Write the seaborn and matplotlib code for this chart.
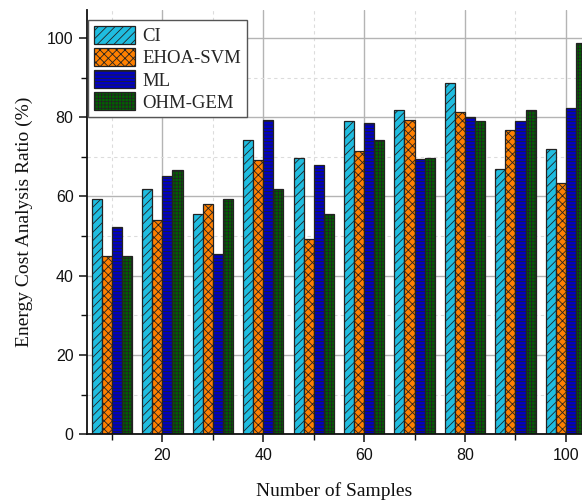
import seaborn as sns
import matplotlib.pyplot as plt
from matplotlib.ticker import MultipleLocator
import pandas as pd

samples = [10, 20, 30, 40, 50, 60, 70, 80, 90, 100]
ci = [59.4, 61.9, 55.7, 74.2, 69.7, 79.1, 81.8, 88.7, 66.9, 71.9]
ehoa_svm = [44.9, 54.1, 58.1, 69.2, 49.3, 71.4, 79.3, 81.4, 76.7, 63.3]
ml = [52.2, 65.2, 45.5, 79.3, 68.0, 78.5, 69.4, 80.1, 79.1, 82.2]
ohm_gem = [44.9, 66.7, 59.4, 61.9, 55.7, 74.2, 69.7, 79.1, 81.8, 98.8]
methods = ["CI", "EHOA-SVM", "ML", "OHM-GEM"]
colors = ["#1fbde0", "#ff8000", "#0000c8", "#006400"]
hatches = ["////", "xxxx", "-----", "+++++"]

df = pd.DataFrame({
    "samples": samples * 4,
    "value": ci + ehoa_svm + ml + ohm_gem,
    "method": [m for m in methods for _ in samples],
})

sns.set_style("white")
plt.rcParams["hatch.linewidth"] = 0.6
plt.rcParams["hatch.color"] = "#111111"

fig = plt.figure(figsize=(5.82, 5.04), dpi=100)
ax = fig.add_axes([0.149, 0.138, 0.851, 0.842])

sns.barplot(data=df, x="samples", y="value", hue="method", hue_order=methods,
            palette=colors, saturation=1, native_scale=True, width=0.8,
            errorbar=None, edgecolor="#222222", linewidth=0.9, legend=False, ax=ax)

for cont, h in zip(ax.containers, hatches):
    for bar in cont:
        bar.set_hatch(h)

ax.set_xlim(5, 103.2)
ax.set_ylim(0, 107)
ax.xaxis.set_major_locator(MultipleLocator(20))
ax.xaxis.set_minor_locator(MultipleLocator(10))
ax.yaxis.set_major_locator(MultipleLocator(20))
ax.yaxis.set_minor_locator(MultipleLocator(10))
ax.set_axisbelow(True)
ax.grid(which="major", color="#b4b4b4", linewidth=1.0, linestyle="-")
ax.grid(which="minor", color="#dcdcdc", linewidth=0.8, linestyle=(0, (3, 3)))

for s in ["top", "right"]:
    ax.spines[s].set_visible(False)
for s in ["left", "bottom"]:
    ax.spines[s].set_color("#111111")
    ax.spines[s].set_linewidth(1.3)

ax.tick_params(which="major", direction="out", length=6, width=1.1, color="#111111",
               left=True, bottom=True, labelsize=11.5, labelcolor="#111111")
ax.tick_params(which="minor", direction="out", length=4, width=1.0, color="#111111",
               left=True, bottom=True)
for lab in ax.get_xticklabels() + ax.get_yticklabels():
    lab.set_fontfamily("Liberation Sans")

ax.set_xlabel("Number of Samples", fontfamily="Liberation Serif", fontsize=14,
              color="#111111", labelpad=14)
ax.set_ylabel("Energy Cost Analysis Ratio (%)", fontfamily="Liberation Serif",
              fontsize=14, color="#111111", labelpad=10)

handles = [cont[0] for cont in ax.containers]
leg = ax.legend(handles, methods, loc="upper left", bbox_to_anchor=(0.003, 0.976),
                borderaxespad=0, fancybox=False, framealpha=1, edgecolor="#555555",
                prop={"family": "Liberation Serif", "size": 13.5},
                handlelength=2.2, handleheight=1.1, labelspacing=0.15,
                handletextpad=0.4, borderpad=0.3)
leg.get_frame().set_linewidth(1.0)

fig.savefig("out.png", dpi=100)
